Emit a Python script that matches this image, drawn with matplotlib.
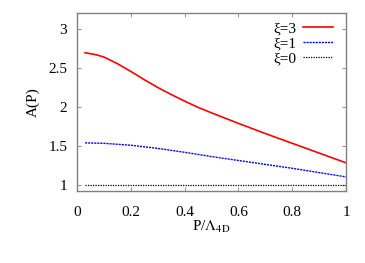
import matplotlib.pyplot as plt

# values
p_xi3 = [0.03, 0.07, 0.1, 0.15, 0.2, 0.25, 0.3, 0.35, 0.4, 0.45, 0.5, 0.6, 0.7, 0.8, 0.9, 1.0]
a_xi3 = [2.69, 2.665, 2.635, 2.55, 2.45, 2.345, 2.245, 2.155, 2.07, 1.99, 1.92, 1.785, 1.655, 1.53, 1.405, 1.28]
p_xi1 = [0.03, 0.1, 0.2, 0.3, 0.4, 0.5, 0.6, 0.7, 0.8, 0.9, 1.0]
a_xi1 = [1.535, 1.53, 1.505, 1.465, 1.415, 1.36, 1.31, 1.26, 1.21, 1.155, 1.10]
p_xi0 = [0.03, 1.0]
a_xi0 = [1.0, 1.0]

plt.rcParams["font.family"] = ["Liberation Serif", "DejaVu Serif"]
plt.rcParams["mathtext.fontset"] = "stix"

fig = plt.figure(figsize=(3.65, 2.63), dpi=100)
ax = fig.add_axes([0.211, 0.274, 0.737, 0.677])

ax.plot(p_xi3, a_xi3, color="#ff0000", lw=1.2, label="ξ=3")
ax.plot(p_xi1, a_xi1, color="#0000ff", lw=1.0, ls=(0, (1.5, 0.7)), label="ξ=1")
ax.plot(p_xi0, a_xi0, color="black", lw=0.9, ls=(0, (1, 1)), label="ξ=0")

ax.set_xlim(0, 1)
ax.set_ylim(0.92, 3.2)
ax.set_xticks([0, 0.2, 0.4, 0.6, 0.8, 1])
ax.set_xticklabels(["0", "0.2", "0.4", "0.6", "0.8", "1"])
ax.set_yticks([1, 1.5, 2, 2.5, 3])
ax.set_yticklabels(["1", "1.5", "2", "2.5", "3"])
ax.tick_params(direction="in", top=True, right=True, length=3, width=0.6,
               color="#808080", labelsize=11)
ax.tick_params(axis="x", pad=11)
ax.tick_params(axis="y", pad=7)
for s in ax.spines.values():
    s.set_edgecolor("#808080")
    s.set_linewidth(1.0)

ax.set_xlabel(r"P/$\Lambda_{\mathrm{4D}}$", fontsize=11, labelpad=0)
ax.set_ylabel("A(P)", fontsize=11, labelpad=6)

leg = ax.legend(loc="upper right", bbox_to_anchor=(0.952, 0.95), frameon=False,
                fontsize=11, markerfirst=False, handlelength=2.0,
                handletextpad=0.4, labelspacing=0.08, borderaxespad=0,
                borderpad=0)

fig.savefig("out.png", dpi=100)
